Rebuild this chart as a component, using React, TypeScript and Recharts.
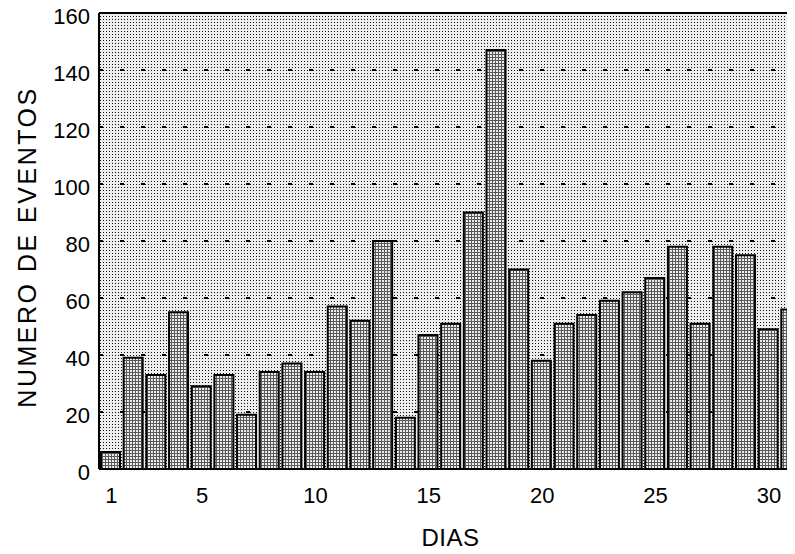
import { Bar, BarChart, CartesianGrid, Label, ReferenceLine, XAxis, YAxis } from "recharts";

const DAYS = [
  1, 2, 3, 4, 5, 6, 7, 8, 9, 10, 11, 12, 13, 14, 15, 16, 17, 18, 19, 20, 21, 22, 23, 24, 25, 26,
  27, 28, 29, 30, 31,
];
const EVENTS = [
  6, 39, 33, 55, 29, 33, 19, 34, 37, 34, 57, 52, 80, 18, 47, 51, 90, 147, 70, 38, 51, 54, 59, 62,
  67, 78, 51, 78, 75, 49, 56,
];
const X_TICKS = [1, 5, 10, 15, 20, 25, 30];
const Y_TICKS = [0, 20, 40, 60, 80, 100, 120, 140, 160];

const FONT = "'Liberation Sans', Arial, Helvetica, sans-serif";

const data = DAYS.map((d, i) => ({ dia: d, eventos: EVENTS[i] }));

// tick labels drawn by hand so the font size sticks
const XTick = (props: any) => {
  const { x, y, payload } = props;
  return (
    <text x={x + 1} y={y + 8} textAnchor="middle" dominantBaseline="central" fill="#000" fontSize={22} fontFamily={FONT}>
      {payload.value}
    </text>
  );
};

const YTick = (props: any) => {
  const { x, y, payload } = props;
  return (
    <text x={x} y={y + 3} textAnchor="end" dominantBaseline="central" fill="#000" fontSize={22} fontFamily={FONT}>
      {payload.value}
    </text>
  );
};

export default function App() {
  return (
    <div style={{ margin: "-8px 0 0 -8px", width: 795, height: 554, overflow: "hidden" }}>
      <BarChart
        width={820}
        height={554}
        data={data}
        margin={{ top: 13, right: 18, left: 0, bottom: 0 }}
      >
        <defs>
          <pattern id="dots" width="3" height="3" patternUnits="userSpaceOnUse">
            <rect width="3" height="3" fill="#ededed" />
            <rect x="1" y="1" width="1" height="1" fill="#111" />
          </pattern>
          <pattern id="hatch" width="3" height="3" patternUnits="userSpaceOnUse">
            <rect width="3" height="3" fill="#ececec" />
            <rect width="3" height="1" fill="#5a5a5a" />
            <rect width="1" height="3" fill="#5a5a5a" />
          </pattern>
        </defs>
        <CartesianGrid
          vertical={false}
          fill="url(#dots)"
          stroke="#000"
          strokeWidth={2}
          strokeDasharray="4 17"
        />
        <XAxis
          dataKey="dia"
          type="number"
          domain={[0.5, 31.5]}
          ticks={X_TICKS}
          interval={0}
          height={85}
          tickLine={false}
          tickSize={0}
          tickMargin={18}
          axisLine={{ stroke: "#000", strokeWidth: 2 }}
          tick={<XTick />}
        >
          <Label
            content={(props: any) => {
              const vb = props.viewBox;
              return (
                <text
                  x={vb.x + vb.width / 2}
                  y={vb.y + 68}
                  textAnchor="middle"
                  dominantBaseline="central"
                  fill="#000"
                  fontSize={24}
                  fontFamily={FONT}
                  letterSpacing={0.5}
                >
                  DIAS
                </text>
              );
            }}
          />
        </XAxis>
        <YAxis
          domain={[0, 160]}
          ticks={Y_TICKS}
          interval={0}
          width={99}
          tickLine={false}
          tickSize={0}
          tickMargin={9}
          axisLine={{ stroke: "#000", strokeWidth: 2 }}
          tick={<YTick />}
        >
          <Label
            content={(props: any) => {
              const vb = props.viewBox;
              const cx = vb.x + 27;
              const cy = vb.y + vb.height / 2 + 6;
              return (
                <text
                  x={cx}
                  y={cy}
                  transform={`rotate(-90 ${cx} ${cy})`}
                  textAnchor="middle"
                  dominantBaseline="central"
                  fill="#000"
                  fontSize={25}
                  fontFamily={FONT}
                  letterSpacing={2.5}
                >
                  NUMERO DE EVENTOS
                </text>
              );
            }}
          />
        </YAxis>
        <ReferenceLine y={160} stroke="#000" strokeWidth={2} />
        <Bar
          dataKey="eventos"
          barSize={19}
          fill="url(#hatch)"
          stroke="#000"
          strokeWidth={2}
          isAnimationActive={false}
        />
      </BarChart>
    </div>
  );
}
